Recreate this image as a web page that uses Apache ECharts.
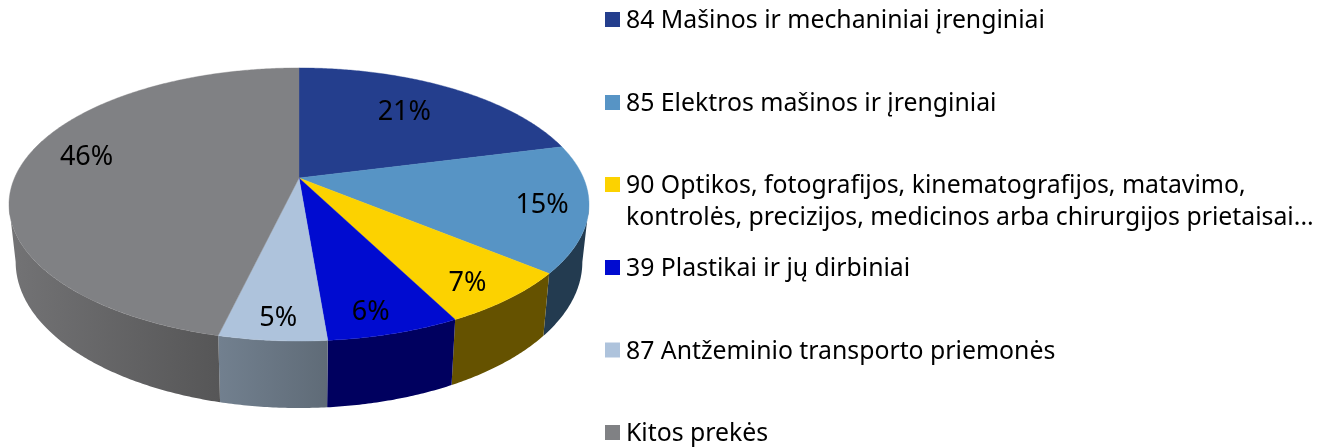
<!DOCTYPE html>
<html><head><meta charset="utf-8">
<style>html,body{margin:0;padding:0;background:#fff}#c{width:1335px;height:448px}</style>
<script src="https://cdn.jsdelivr.net/npm/echarts@6/dist/echarts.min.js"></script>
</head><body><div id="c"></div>
<script>
const categories = ['84 Mašinos ir mechaniniai įrenginiai','85 Elektros mašinos ir įrenginiai','90 Optikos, fotografijos, kinematografijos, matavimo,\nkontrolės, precizijos, medicinos arba chirurgijos prietaisai...','39 Plastikai ir jų dirbiniai','87 Antžeminio transporto priemonės','Kitos prekės'];
const shares = [21, 15, 6.5, 6.2, 5, 46.3];
const topColors = ['#243E8D','#5794C5','#FCD200','#000BD0','#AEC3DC','#808184'];
const wallLeft = ['#141F4C','#233B50','#655200','#00005F','#72808F','#737375'];
const wallRight = ['#141F4C','#233B50','#655200','#00005F','#5F6B77','#565657'];
const labelNudge = [[-12,4],[28,5],[18,19],[4,24],[-2,25],[-4,-9]];
const legendCentres = [19.5,102.5,184.5,267.5,350,432.5];

const FONT = 'Noto Sans', LEGEND_FS = 24.8, LABEL_FS = 27;
const CX = 299, CY = 178, A = 284.5, B = 131.4, K = 0.194;
const total = shares.reduce((a,b)=>a+b,0);
const rad = d => d*Math.PI/180;
function project(deg, r){
  const u = r*Math.sin(rad(deg)), v = -r*Math.cos(rad(deg)), w = 1-K*v;
  return [CX + A*u/w, CY + B*v/w];
}
function lower(p){
  return [CX + (p[0]-CX)*0.977, p[1] + 67 - 0.07*(341-p[1])];
}
const edgeL = 258.8, edgeR = 101.2;
let run = 0;
const spans = shares.map(s => { const a = run/total*360; run += s; return [a, run/total*360]; });
function arc(a,b){
  const pts=[]; const n=Math.max(2,Math.ceil((b-a)*2));
  for(let i=0;i<=n;i++) pts.push(project(a+(b-a)*i/n,1));
  return pts;
}
const series = [];
categories.forEach((name,i)=>{
  series.push({
    type:'custom', name, coordinateSystem:'none', z:1, silent:true,
    itemStyle:{color:topColors[i]}, data:[[shares[i]]],
    renderItem(){
      const a=Math.max(spans[i][0],edgeR), b=Math.min(spans[i][1],edgeL);
      if(b<=a) return {type:'group',children:[]};
      const rim=arc(a,b);
      const fill=new echarts.graphic.LinearGradient(0,0,1,0,[{offset:0,color:wallLeft[i]},{offset:1,color:wallRight[i]}]);
      return {type:'polygon',shape:{points:rim.concat(rim.map(lower).reverse())},style:{fill}};
    }
  });
});
categories.forEach((name,i)=>{
  series.push({
    type:'custom', name, coordinateSystem:'none', z:2, silent:true,
    itemStyle:{color:topColors[i]}, data:[[shares[i]]],
    renderItem(){
      const [a,b]=spans[i];
      const apex=project(0,0);
      const m=project((a+b)/2,0.75);
      return {type:'group',children:[
        {type:'polygon',shape:{points:[apex].concat(arc(a,b))},style:{fill:topColors[i],stroke:topColors[i],lineWidth:0.4}},
        {type:'text',z2:5,style:{text:Math.round(shares[i])+'%',x:m[0]+labelNudge[i][0],y:m[1]+labelNudge[i][1],align:'center',verticalAlign:'middle',fill:'#000',font:LABEL_FS+'px "'+FONT+'"'}}
      ]};
    }
  });
});
const legend = categories.map((name,i)=>{
  const two = name.includes('\n');
  return {
    show:true, data:[name], left:605, top: legendCentres[i]-(two?48:16),
    orient:'vertical', itemWidth:15, itemHeight:15, selectedMode:false, icon:'rect', padding:0,
    textStyle:{fontFamily:FONT,fontSize:LEGEND_FS,color:'#000',lineHeight:32,padding:[0,0,0,1],
      rich:{t:{fontFamily:FONT,fontSize:LEGEND_FS,color:'#000',lineHeight:32,padding:[3,0,0,0]}}},
    formatter: n => (two ? '{t| }\n' : '') + n.split('\n').map(l=>'{t|'+l+'}').join('\n')
  };
});
const chart = echarts.init(document.getElementById('c'),null,{renderer:'canvas'});
chart.setOption({animation:false,backgroundColor:'#fff',tooltip:{show:false},legend,series});
</script></body></html>
